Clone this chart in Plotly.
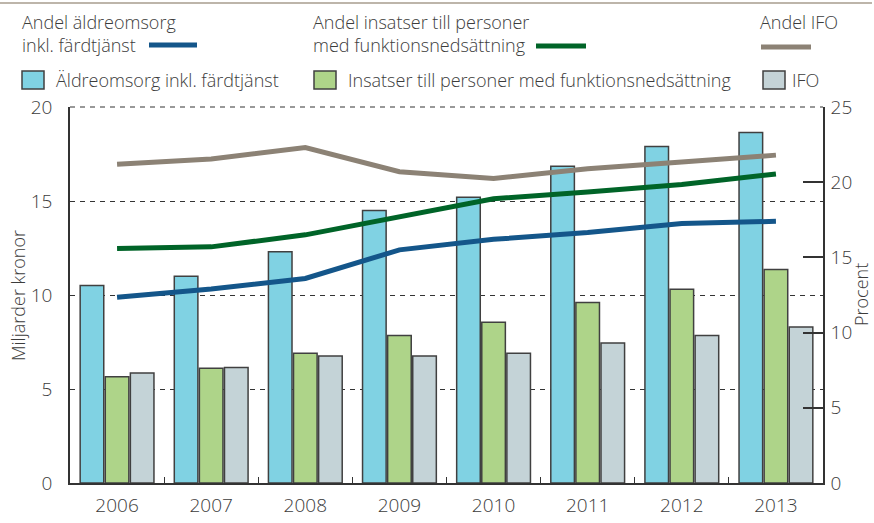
import plotly.graph_objects as go

years = ["2006", "2007", "2008", "2009", "2010", "2011", "2012", "2013"]

# Bars (Miljarder kronor, left axis)
aldre_bar = [10.5, 11.0, 12.3, 14.5, 15.2, 16.85, 17.9, 18.65]
lss_bar = [5.65, 6.1, 6.9, 7.85, 8.55, 9.6, 10.3, 11.35]
ifo_bar = [5.85, 6.15, 6.75, 6.75, 6.9, 7.45, 7.85, 8.3]

# Lines (Procent, right axis)
aldre_pct = [12.35, 12.9, 13.6, 15.5, 16.2, 16.65, 17.25, 17.4]
lss_pct = [15.6, 15.7, 16.5, 17.7, 18.9, 19.35, 19.85, 20.55]
ifo_pct = [21.2, 21.55, 22.3, 20.7, 20.25, 20.9, 21.35, 21.8]

left_ticks = [0, 5, 10, 15, 20]
right_ticks = [0, 5, 10, 15, 20, 25]

C_ALDRE_BAR = "#80d2e3"
C_LSS_BAR = "#aed489"
C_IFO_BAR = "#c4d3d7"
C_ALDRE_LINE = "#14568a"
C_LSS_LINE = "#006428"
C_IFO_LINE = "#8c8275"
EDGE = "#404040"
TXT = "#3c3c3c"
FONT = "Open Sans"
WEIGHT = 300

fig = go.Figure()
for name, vals, col in [("Äldreomsorg inkl. färdtjänst", aldre_bar, C_ALDRE_BAR),
                        ("Insatser till personer med funktionsnedsättning", lss_bar, C_LSS_BAR),
                        ("IFO", ifo_bar, C_IFO_BAR)]:
    fig.add_trace(go.Bar(x=years, y=vals, name=name, marker=dict(color=col, line=dict(color=EDGE, width=1.5)),
                         yaxis="y"))

for name, vals, col in [("Andel äldreomsorg inkl. färdtjänst", aldre_pct, C_ALDRE_LINE),
                        ("Andel insatser till personer med funktionsnedsättning", lss_pct, C_LSS_LINE),
                        ("Andel IFO", ifo_pct, C_IFO_LINE)]:
    fig.add_trace(go.Scatter(x=years, y=vals, name=name, mode="lines",
                             line=dict(color=col, width=5), yaxis="y2"))

L, R, T, B = 70, 823, 107, 483
W, H = 874, 523


def px(x):
    return (x - L) / (R - L)


def py(y):
    return (B - y) / (B - T)


shapes = []
annotations = []

# top rule
shapes.append(dict(type="line", xref="paper", yref="paper", x0=px(0), x1=px(872), y0=py(3), y1=py(3),
                   line=dict(color="#bdb5aa", width=2)))
# top dashed gridline at 20
shapes.append(dict(type="line", xref="paper", yref="paper", x0=0, x1=1, y0=1, y1=1,
                   line=dict(color="#333333", width=1, dash="5px,5px"), layer="below"))


def tfont(size=18):
    return dict(family=FONT, size=size, color=TXT, weight=WEIGHT)


def text(t, x, y, size=18):
    annotations.append(dict(text=t, x=px(x), y=py(y), xref="paper", yref="paper", xanchor="left",
                            yanchor="middle", showarrow=False, font=tfont(size)))


def legline(x0, x1, y, col):
    shapes.append(dict(type="line", xref="paper", yref="paper", x0=px(x0), x1=px(x1), y0=py(y), y1=py(y),
                       line=dict(color=col, width=5)))


def legbox(x0, x1, y0, y1, col):
    shapes.append(dict(type="rect", xref="paper", yref="paper", x0=px(x0), x1=px(x1), y0=py(y0), y1=py(y1),
                       fillcolor=col, line=dict(color=EDGE, width=1.5)))


text("Andel äldreomsorg", 20, 22)
text("inkl. färdtjänst", 20, 45)
legline(149, 197, 45, C_ALDRE_LINE)
text("Andel insatser till personer", 311, 22)
text("med funktionsnedsättning", 311, 45)
legline(536, 586, 46, C_LSS_LINE)
text("Andel IFO", 758, 22)
legline(761, 811, 47, C_IFO_LINE)

legbox(22, 44, 71, 89, C_ALDRE_BAR)
text("Äldreomsorg inkl. färdtjänst", 54, 80)
legbox(314, 336, 71, 89, C_LSS_BAR)
text("Insatser till personer med funktionsnedsättning", 346, 80)
legbox(763, 785, 71, 89, C_IFO_BAR)
text("IFO", 790, 80)

# axis titles
annotations.append(dict(text="Miljarder kronor", x=px(18), y=py(296), xref="paper", yref="paper",
                        textangle=-90, showarrow=False, xanchor="center", yanchor="middle",
                        font=tfont(18)))
annotations.append(dict(text="Procent", x=px(861), y=py(295), xref="paper", yref="paper",
                        textangle=-90, showarrow=False, xanchor="center", yanchor="middle",
                        font=tfont(18)))

fig.update_layout(
    width=W, height=H,
    margin=dict(l=L, r=W - R, t=T, b=H - B, autoexpand=False),
    paper_bgcolor="white", plot_bgcolor="white",
    showlegend=False,
    barmode="group", bargap=0.2, bargroupgap=0.06,
    font=tfont(18),
    xaxis=dict(type="category", showline=True, linecolor="#333333", linewidth=1.5, automargin=False,
               ticks="inside", tickson="boundaries", ticklen=6, tickcolor="#333333", tickwidth=1.2,
               showgrid=False, tickfont=tfont(19), ticklabelstandoff=4),
    yaxis=dict(range=[0, 20], tickvals=left_ticks, showline=True, linecolor="#333333", linewidth=1.5,
               automargin=False,
               ticks="", showgrid=True, gridcolor="#333333", gridwidth=1, griddash="5px,5px",
               zeroline=False, tickfont=tfont(19), ticklabelstandoff=12),
    yaxis2=dict(range=[0, 25], tickvals=right_ticks, overlaying="y", side="right", showline=True,
                automargin=False,
                linecolor="#333333", linewidth=1.5, ticks="inside", ticklen=20, tickcolor="#333333",
                tickwidth=1.5, showgrid=False, zeroline=False,
                tickfont=tfont(19), ticklabelstandoff=2),
    shapes=shapes, annotations=annotations,
)

fig.write_html("out.html", config={"displayModeBar": False},
               post_script="document.body.style.margin='0';document.body.style.padding='0';")
